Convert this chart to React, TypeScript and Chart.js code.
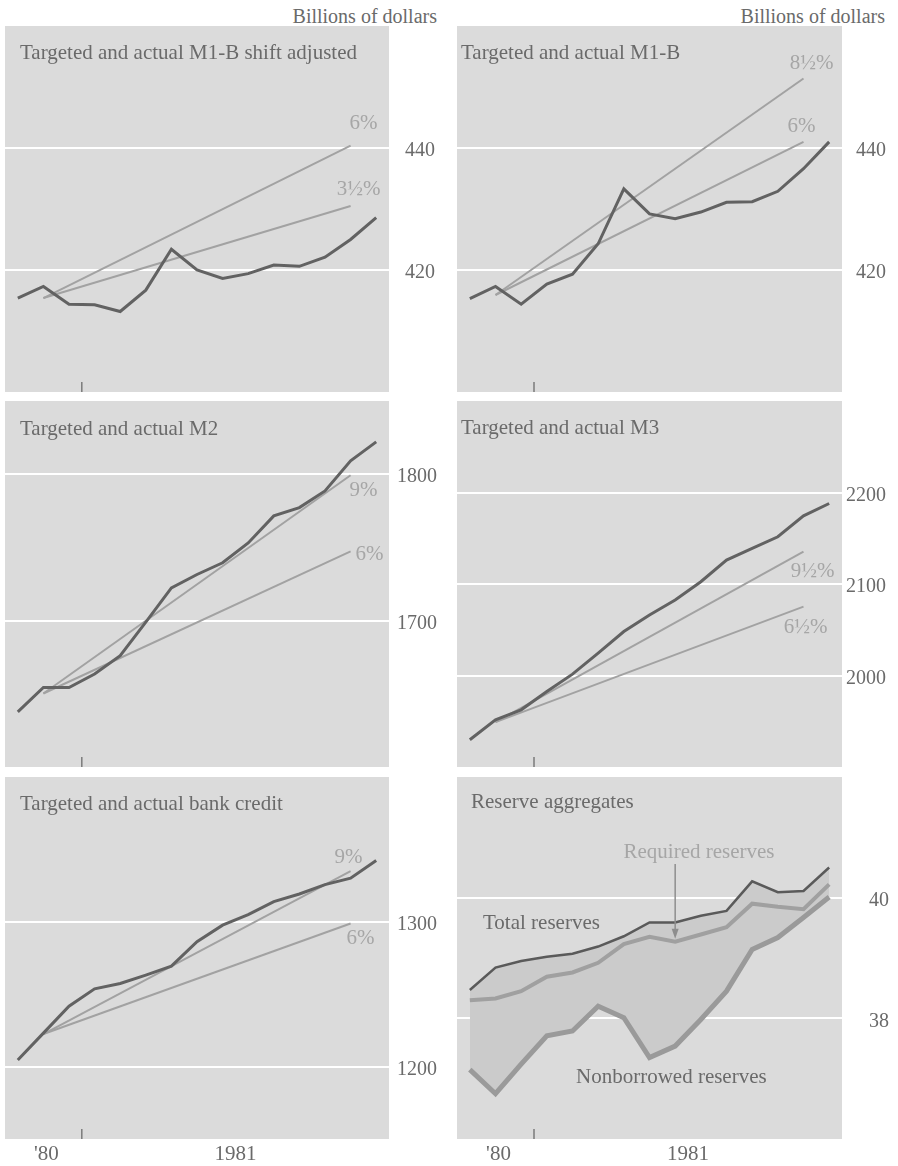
import React, { useEffect, useRef } from 'react';
import { Chart, registerables } from 'chart.js';
Chart.register(...registerables);

// ---------- data ----------
const months = ['Oct 1980', 'Nov 1980', 'Dec 1980', 'Jan 1981', 'Feb 1981', 'Mar 1981', 'Apr 1981', 'May 1981', 'Jun 1981', 'Jul 1981', 'Aug 1981', 'Sep 1981', 'Oct 1981', 'Nov 1981', 'Dec 1981'];
const targetMonths = ['Nov 1980', 'Nov 1981'];
const yearLabels = ["'80", '1981'];

const m1bShiftActual = [415.4, 417.3, 414.4, 414.3, 413.2, 416.7, 423.4, 420.0, 418.6, 419.4, 420.8, 420.6, 422.1, 425.0, 428.6];
const m1bShiftTarget6 = [415.4, 440.4];
const m1bShiftTarget35 = [415.4, 430.5];
const m1bShiftTicks = [420, 440];

const m1bActual = [415.3, 417.3, 414.4, 417.7, 419.3, 424.3, 433.3, 429.2, 428.4, 429.5, 431.1, 431.2, 432.9, 436.6, 441.0];
const m1bTarget85 = [415.9, 451.4];
const m1bTarget6 = [415.9, 441.0];
const m1bTicks = [420, 440];

const m2Actual = [1637.7, 1654.3, 1654.3, 1663.5, 1676.0, 1699.0, 1722.4, 1731.5, 1739.5, 1753.0, 1771.5, 1777.2, 1788.6, 1809.1, 1822.1];
const m2Target9 = [1650.2, 1799.3];
const m2Target6 = [1650.2, 1747.3];
const m2Ticks = [1700, 1800];

const m3Actual = [1929.8, 1951.6, 1962.5, 1982.5, 2001.5, 2024.4, 2048.0, 2066.2, 2082.5, 2102.5, 2126.2, 2138.9, 2151.6, 2174.5, 2188.0];
const m3Target95 = [1949.1, 2135.3];
const m3Target65 = [1949.1, 2075.3];
const m3Ticks = [2000, 2100, 2200];

const creditActual = [1204.6, 1223.1, 1241.7, 1253.7, 1257.4, 1263.2, 1269.4, 1286.3, 1297.7, 1304.9, 1313.9, 1319.2, 1325.7, 1330.1, 1342.4];
const creditTarget9 = [1222.5, 1335.0];
const creditTarget6 = [1222.5, 1298.8];
const creditTicks = [1200, 1300];

const totalReserves = [38.47, 38.84, 38.95, 39.02, 39.07, 39.19, 39.36, 39.59, 39.59, 39.70, 39.78, 40.27, 40.09, 40.11, 40.50];
const requiredReserves = [38.30, 38.33, 38.45, 38.69, 38.76, 38.92, 39.23, 39.35, 39.27, 39.39, 39.51, 39.90, 39.85, 39.81, 40.22];
const nonborrowedReserves = [37.15, 36.75, 37.24, 37.71, 37.79, 38.20, 38.01, 37.35, 37.54, 37.98, 38.45, 39.14, 39.34, 39.67, 40.01];
const reserveTicks = [38, 40];

// ---------- styles ----------
const FONT = "'Liberation Serif', 'Times New Roman', 'DejaVu Serif', serif";
const BG = '#dbdbdb';
const ACTUAL = '#626262';
const TARGET = '#a2a2a2';
const TEXT = '#6a6a6a';
const LIGHT_TEXT = '#a6a6a6';

const COLS = [
  { canvasLeft: 0, width: 449, padLeft: 5, axisWidth: 60 },
  { canvasLeft: 449, width: 449, padLeft: 8, axisWidth: 56 },
];
const ROWS = [
  { top: 26, bottom: 392 },
  { top: 401, bottom: 767 },
  { top: 777, bottom: 1139 },
];

type Ann = { text: string; value: number; dx: number; dy: number };
type Spec = {
  title: string; titleDx: number; titleDy: number;
  col: number; row: number; yMin: number; yMax: number; ticks: number[]; tickPad: number;
  datasets: any[]; anns: Ann[]; reserve?: boolean;
};

const actualDs = (data: number[]) => ({
  data, borderColor: ACTUAL, borderWidth: 3, pointRadius: 0, tension: 0, fill: false,
});
const targetDs = (vals: number[]) => ({
  data: targetMonths.map((m, i) => ({ x: m, y: vals[i] })),
  borderColor: TARGET, borderWidth: 2, pointRadius: 0, tension: 0, fill: false,
});

const specs: Spec[] = [
  {
    title: 'Targeted and actual M1-B shift adjusted', titleDx: 15, titleDy: 33,
    col: 0, row: 0, yMin: 400, yMax: 460, ticks: m1bShiftTicks, tickPad: 16,
    datasets: [actualDs(m1bShiftActual), targetDs(m1bShiftTarget6), targetDs(m1bShiftTarget35)],
    anns: [
      { text: '6%', value: m1bShiftTarget6[1], dx: 13, dy: -22 },
      { text: '3½%', value: m1bShiftTarget35[1], dx: 8, dy: -16 },
    ],
  },
  {
    title: 'Targeted and actual M1-B', titleDx: 4, titleDy: 33,
    col: 1, row: 0, yMin: 400, yMax: 460, ticks: m1bTicks, tickPad: 14,
    datasets: [actualDs(m1bActual), targetDs(m1bTarget85), targetDs(m1bTarget6)],
    anns: [
      { text: '8½%', value: m1bTarget85[1], dx: 8, dy: -15 },
      { text: '6%', value: m1bTarget6[1], dx: -2, dy: -15 },
    ],
  },
  {
    title: 'Targeted and actual M2', titleDx: 15, titleDy: 34,
    col: 0, row: 1, yMin: 1600, yMax: 1850, ticks: m2Ticks, tickPad: 8,
    datasets: [actualDs(m2Actual), targetDs(m2Target9), targetDs(m2Target6)],
    anns: [
      { text: '9%', value: m2Target9[1], dx: 13, dy: 15 },
      { text: '6%', value: m2Target6[1], dx: 19, dy: 3 },
    ],
  },
  {
    title: 'Targeted and actual M3', titleDx: 4, titleDy: 33,
    col: 1, row: 1, yMin: 1900, yMax: 2300, ticks: m3Ticks, tickPad: 4,
    datasets: [actualDs(m3Actual), targetDs(m3Target95), targetDs(m3Target65)],
    anns: [
      { text: '9½%', value: m3Target95[1], dx: 9, dy: 20 },
      { text: '6½%', value: m3Target65[1], dx: 2, dy: 21 },
    ],
  },
  {
    title: 'Targeted and actual bank credit', titleDx: 15, titleDy: 33,
    col: 0, row: 2, yMin: 1150, yMax: 1400, ticks: creditTicks, tickPad: 8,
    datasets: [actualDs(creditActual), targetDs(creditTarget9), targetDs(creditTarget6)],
    anns: [
      { text: '9%', value: creditTarget9[1], dx: -2, dy: -14 },
      { text: '6%', value: creditTarget6[1], dx: 10, dy: 15 },
    ],
  },
  {
    title: 'Reserve aggregates', titleDx: 14, titleDy: 31,
    col: 1, row: 2, yMin: 36, yMax: 42, ticks: reserveTicks, tickPad: 27,
    datasets: [
      { data: totalReserves, borderColor: '#5a5a5a', borderWidth: 2.5, pointRadius: 0, tension: 0, fill: false },
      { data: requiredReserves, borderColor: '#a0a0a0', borderWidth: 4, pointRadius: 0, tension: 0, fill: false },
      { data: nonborrowedReserves, borderColor: '#9a9a9a', borderWidth: 5, pointRadius: 0, tension: 0, fill: 0, backgroundColor: '#cbcbcb' },
    ],
    anns: [],
    reserve: true,
  },
];

function makeDecor(spec: Spec) {
  return {
    id: 'panelDecor',
    beforeDraw(chart: any) {
      const { ctx, chartArea: a } = chart;
      ctx.save();
      ctx.fillStyle = BG;
      ctx.fillRect(a.left, a.top, a.right - a.left, a.bottom - a.top);
      ctx.restore();
    },
    afterDatasetsDraw(chart: any) {
      const { ctx, chartArea: a } = chart;
      const xs = chart.scales.x;
      const ys = chart.scales.y;
      ctx.save();
      // title
      ctx.font = `21px ${FONT}`;
      ctx.fillStyle = TEXT;
      ctx.textAlign = 'left';
      ctx.textBaseline = 'alphabetic';
      ctx.fillText(spec.title, a.left + spec.titleDx, a.top + spec.titleDy);
      // target annotations
      ctx.font = `21px ${FONT}`;
      ctx.fillStyle = LIGHT_TEXT;
      ctx.textAlign = 'center';
      ctx.textBaseline = 'middle';
      const endX = xs.getPixelForValue(months.indexOf(targetMonths[1]));
      spec.anns.forEach((an) => {
        ctx.fillText(an.text, endX + an.dx, ys.getPixelForValue(an.value) + an.dy);
      });
      // year boundary tick
      const bx = xs.getPixelForValue(months.indexOf('Jan 1981') - 0.5);
      ctx.strokeStyle = '#7a7a7a';
      ctx.lineWidth = 1.5;
      ctx.beginPath();
      ctx.moveTo(bx, a.bottom - 10);
      ctx.lineTo(bx, a.bottom);
      ctx.stroke();
      // year labels on bottom row
      if (spec.row === 2) {
        ctx.font = `21px ${FONT}`;
        ctx.fillStyle = TEXT;
        ctx.textAlign = 'center';
        ctx.textBaseline = 'middle';
        ctx.fillText(yearLabels[0], xs.getPixelForValue(1) + 3, a.bottom + 15);
        ctx.fillText(yearLabels[1], xs.getPixelForValue(8.5), a.bottom + 15);
      }
      if (spec.reserve) {
        ctx.font = `21px ${FONT}`;
        ctx.textBaseline = 'middle';
        ctx.textAlign = 'center';
        ctx.fillStyle = LIGHT_TEXT;
        ctx.fillText('Required reserves', a.left + 242, a.top + 75);
        ctx.fillStyle = TEXT;
        ctx.textAlign = 'left';
        ctx.fillText('Total reserves', a.left + 26, a.top + 146);
        ctx.fillText('Nonborrowed reserves', a.left + 119, a.top + 300);
        // arrow to required reserves
        const ax = xs.getPixelForValue(8);
        const ay = ys.getPixelForValue(requiredReserves[8]) - 3;
        ctx.strokeStyle = '#8e8e8e';
        ctx.fillStyle = '#8e8e8e';
        ctx.lineWidth = 1.5;
        ctx.beginPath();
        ctx.moveTo(ax, a.top + 87);
        ctx.lineTo(ax, ay - 8);
        ctx.stroke();
        ctx.beginPath();
        ctx.moveTo(ax - 3.5, ay - 10);
        ctx.lineTo(ax + 3.5, ay - 10);
        ctx.lineTo(ax, ay);
        ctx.closePath();
        ctx.fill();
      }
      ctx.restore();
    },
  };
}

function Panel({ spec }: { spec: Spec }) {
  const ref = useRef<HTMLCanvasElement | null>(null);
  const col = COLS[spec.col];
  const row = ROWS[spec.row];
  const canvasTop = row.top - 6;
  const canvasBottom = spec.row === 2 ? 1166 : row.bottom + 6;
  const h = canvasBottom - canvasTop;

  useEffect(() => {
    if (!ref.current) return;
    const chart = new Chart(ref.current, {
      type: 'line',
      data: { labels: months, datasets: spec.datasets },
      plugins: [makeDecor(spec)],
      options: {
        responsive: false,
        animation: false,
        devicePixelRatio: 1,
        layout: {
          autoPadding: false,
          padding: { left: col.padLeft, right: 0, top: row.top - canvasTop, bottom: canvasBottom - row.bottom },
        },
        plugins: { legend: { display: false }, tooltip: { enabled: false }, title: { display: false } },
        scales: {
          x: { type: 'category', display: false, offset: true },
          y: {
            position: 'right',
            min: spec.yMin,
            max: spec.yMax,
            afterBuildTicks: (s: any) => { s.ticks = spec.ticks.map((v) => ({ value: v })); },
            afterFit: (s: any) => {
              s.width = col.axisWidth;
              s.paddingTop = 0;
              s.paddingBottom = 0;
            },
            grid: { color: '#ffffff', lineWidth: 2, drawTicks: false },
            border: { display: false },
            ticks: {
              padding: spec.tickPad,
              color: TEXT,
              labelOffset: 3,
              font: { size: 20, family: FONT },
              callback: (v: any) => String(v),
            },
          },
        },
      } as any,
    });
    return () => chart.destroy();
  }, []);

  return (
    <canvas
      ref={ref}
      width={col.width}
      height={h}
      style={{ position: 'absolute', left: col.canvasLeft, top: canvasTop, width: col.width, height: h }}
    />
  );
}

export default function App() {
  const unitStyle: React.CSSProperties = {
    position: 'absolute', top: 4, fontFamily: FONT, fontSize: 20, color: TEXT,
    textAlign: 'right', lineHeight: '24px', whiteSpace: 'nowrap',
  };
  return (
    <div style={{ position: 'absolute', left: 0, top: 0, width: 898, height: 1166, background: '#ffffff', overflow: 'hidden' }}>
      <div style={{ ...unitStyle, left: 0, width: 437 }}>Billions of dollars</div>
      <div style={{ ...unitStyle, left: 449, width: 436 }}>Billions of dollars</div>
      {specs.map((s, i) => (
        <Panel key={i} spec={s} />
      ))}
    </div>
  );
}
